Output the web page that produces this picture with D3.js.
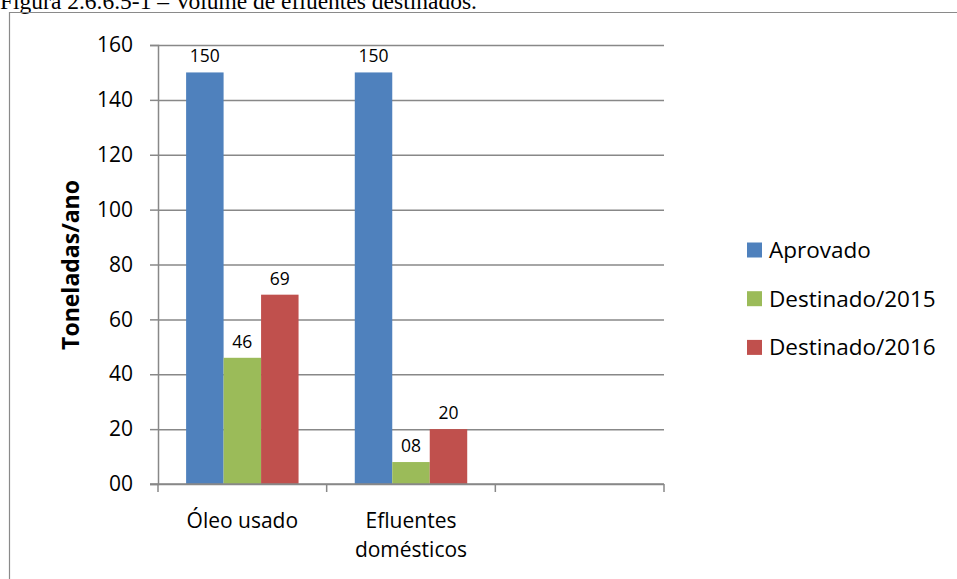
<!DOCTYPE html>
<html>
<head>
<meta charset="utf-8">
<script src="https://cdn.jsdelivr.net/npm/d3@7"></script>
<style>
  html, body { margin: 0; padding: 0; background: #fff; }
  svg { display: block; }
</style>
</head>
<body>
<svg id="chart" width="957" height="579"></svg>
<script>
// ---- data ----
const categories = ["Óleo usado", "Efluentes domésticos", ""];
const categoryLines = [["Óleo usado"], ["Efluentes", "domésticos"], []];
const seriesNames = ["Aprovado", "Destinado/2015", "Destinado/2016"];
const aprovado = [150, 150, null];
const destinado2015 = [46, 8, null];
const destinado2016 = [69, 20, null];
const valueLabels2015 = ["46", "08", ""];
const yTicks = [0, 20, 40, 60, 80, 100, 120, 140, 160];
const yTickLabels = ["00", "20", "40", "60", "80", "100", "120", "140", "160"];
const seriesColors = ["#4F81BD", "#9BBB59", "#C0504D"];
const titleText = "Figura 2.6.6.5-1 – Volume de efluentes destinados.";
const yTitle = "Toneladas/ano";

// ---- layout ----
const svg = d3.select("#chart");
const W = 957, H = 579;
const plot = { left: 158, right: 664, top: 45, bottom: 484 };
const sans = "'Open Sans', 'Liberation Sans', sans-serif";

// title (clipped at top as in reference)
svg.append("text")
  .attr("x", 0).attr("y", 9)
  .attr("font-family", "'Liberation Serif', 'DejaVu Serif', serif")
  .attr("font-size", 23.5)
  .attr("fill", "#000")
  .text(titleText);

// frame
svg.append("path")
  .attr("d", `M9.5,${H} L9.5,12.5 L${W},12.5`)
  .attr("fill", "none").attr("stroke", "#8a8a8a").attr("stroke-width", 1.2);

// scales
const x0 = d3.scaleBand().domain(categories).range([plot.left, plot.right]).paddingInner(0).paddingOuter(0);
const gapRatio = 1.5; // gap width 150%
const barW = x0.bandwidth() / (3 + gapRatio);
const x1 = d3.scaleBand().domain(seriesNames)
  .range([barW * gapRatio / 2, barW * gapRatio / 2 + 3 * barW]).padding(0);
const y = d3.scaleLinear().domain([0, 160]).range([plot.bottom, plot.top]);
const color = d3.scaleOrdinal().domain(seriesNames).range(seriesColors);

// gridlines
const yAxis = d3.axisLeft(y).tickValues(yTicks)
  .tickSize(-(plot.right - plot.left))
  .tickFormat((d, i) => yTickLabels[i]);
const gy = svg.append("g").attr("transform", `translate(${plot.left},0)`).call(yAxis);
gy.select(".domain").remove();
gy.selectAll(".tick line").attr("stroke", "#888").attr("stroke-width", 1.5);
gy.selectAll(".tick text").remove();
// y axis with outer tick marks
const gyt = svg.append("g").attr("transform", `translate(${plot.left},0)`)
  .call(d3.axisLeft(y).tickValues(yTicks).tickSize(8).tickPadding(17).tickFormat((d, i) => yTickLabels[i]));
gyt.select(".domain").attr("stroke", "#888").attr("stroke-width", 1.5);
gyt.selectAll(".tick line").attr("stroke", "#888").attr("stroke-width", 1.5);
gyt.selectAll(".tick text").attr("font-family", sans).attr("font-size", 21).attr("fill", "#000");

// bars
const seriesData = [aprovado, destinado2015, destinado2016];
const labelData = [aprovado.map(v => v == null ? "" : String(v)), valueLabels2015, destinado2016.map(v => v == null ? "" : String(v))];
categories.forEach((cat, ci) => {
  seriesNames.forEach((s, si) => {
    const v = seriesData[si][ci];
    if (v == null) return;
    const bx = x0(cat) + x1(s);
    svg.append("rect")
      .attr("x", bx).attr("y", y(v))
      .attr("width", x1.bandwidth()).attr("height", y(0) - y(v))
      .attr("fill", color(s));
    svg.append("text")
      .attr("x", bx + x1.bandwidth() / 2).attr("y", y(v) - 10)
      .attr("text-anchor", "middle")
      .attr("font-family", sans).attr("font-size", 17.5).attr("fill", "#000")
      .text(labelData[si][ci]);
  });
});

// x axis
svg.append("line").attr("x1", plot.left - 8).attr("x2", plot.right)
  .attr("y1", plot.bottom).attr("y2", plot.bottom)
  .attr("stroke", "#888").attr("stroke-width", 1.5);
const boundaries = categories.map(c => x0(c)).concat([plot.right]);
svg.append("g").selectAll("line").data(boundaries).join("line")
  .attr("x1", d => d).attr("x2", d => d)
  .attr("y1", plot.bottom).attr("y2", plot.bottom + 8)
  .attr("stroke", "#888").attr("stroke-width", 1.5);
categories.forEach((cat, ci) => {
  const cx = x0(cat) + x0.bandwidth() / 2;
  const t = svg.append("text")
    .attr("x", cx).attr("y", 528)
    .attr("text-anchor", "middle")
    .attr("font-family", sans).attr("font-size", 21).attr("fill", "#000");
  categoryLines[ci].forEach((ln, li) => {
    t.append("tspan").attr("x", cx).attr("dy", li === 0 ? 0 : 29).text(ln);
  });
});

// y title
svg.append("text")
  .attr("transform", `translate(79,265) rotate(-90)`)
  .attr("text-anchor", "middle")
  .attr("font-family", sans).attr("font-size", 23).attr("font-weight", "bold").attr("fill", "#000")
  .text(yTitle);

// legend
const lg = svg.append("g").attr("transform", "translate(747,250)");
seriesNames.forEach((s, i) => {
  const g = lg.append("g").attr("transform", `translate(0,${i * 48.7})`);
  g.append("rect").attr("x", 0).attr("y", -7.5).attr("width", 15).attr("height", 15).attr("fill", color(s));
  g.append("text").attr("x", 22).attr("y", 0).attr("dy", "0.35em")
    .attr("font-family", sans).attr("font-size", 22.5).attr("fill", "#000").text(s);
});
</script>
</body>
</html>
